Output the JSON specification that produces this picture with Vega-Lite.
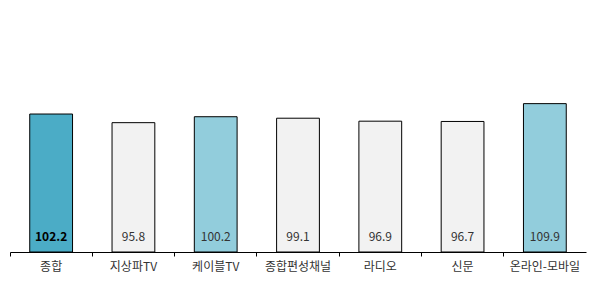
{
  "$schema": "https://vega.github.io/schema/vega-lite/v6.json",
  "width": 576,
  "height": 243,
  "autosize": {"type": "none"},
  "padding": {"left": 10, "top": 9, "right": 10, "bottom": 36},
  "background": "white",
  "config": {"view": {"stroke": null}, "font": "Noto Sans CJK KR"},
  "data": {
    "values": [
      {"cat": "종합", "value": 102.2, "group": "total"},
      {"cat": "지상파TV", "value": 95.8, "group": "other"},
      {"cat": "케이블TV", "value": 100.2, "group": "high"},
      {"cat": "종합편성채널", "value": 99.1, "group": "other"},
      {"cat": "라디오", "value": 96.9, "group": "other"},
      {"cat": "신문", "value": 96.7, "group": "other"},
      {"cat": "온라인-모바일", "value": 109.9, "group": "high"}
    ]
  },
  "encoding": {
    "x": {
      "field": "cat",
      "type": "nominal",
      "sort": null,
      "scale": {"paddingInner": 0, "paddingOuter": 0},
      "axis": {
        "title": null,
        "labelAngle": 0,
        "labelFontSize": 12,
        "labelColor": "#333333",
        "labelPadding": 5,
        "tickSize": 4,
        "tickColor": "#000000",
        "domainColor": "#000000",
        "bandPosition": 0,
        "grid": false
      }
    }
  },
  "layer": [
    {
      "mark": {"type": "bar", "width": {"band": 0.52}, "stroke": "#000000", "strokeWidth": 1},
      "encoding": {
        "y": {
          "field": "value",
          "type": "quantitative",
          "scale": {"domain": [0, 180], "nice": false},
          "axis": null
        },
        "fill": {
          "field": "group",
          "type": "nominal",
          "scale": {"domain": ["total", "high", "other"], "range": ["#4BACC6", "#92CDDC", "#F2F2F2"]},
          "legend": null
        }
      }
    },
    {
      "transform": [{"filter": "datum.group !== 'total'"}],
      "mark": {"type": "text", "dy": -15, "fontSize": 12, "color": "#333333"},
      "encoding": {
        "y": {"datum": 0, "type": "quantitative", "scale": {"domain": [0, 180], "nice": false}},
        "text": {"field": "value", "type": "quantitative", "format": ".1f"}
      }
    },
    {
      "transform": [{"filter": "datum.group === 'total'"}],
      "mark": {"type": "text", "dy": -15, "fontSize": 12, "fontWeight": "bold", "color": "#000000"},
      "encoding": {
        "y": {"datum": 0, "type": "quantitative", "scale": {"domain": [0, 180], "nice": false}},
        "text": {"field": "value", "type": "quantitative", "format": ".1f"}
      }
    }
  ]
}
